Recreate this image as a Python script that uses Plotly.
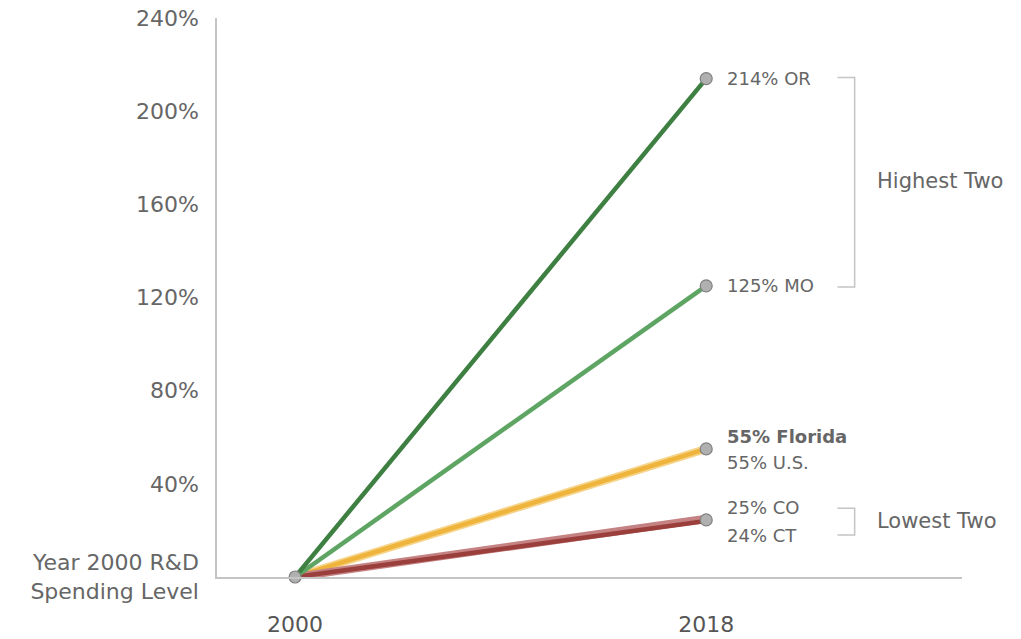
import plotly.graph_objects as go

years = [2000, 2018]
series_names = ["U.S.", "Florida", "CO", "CT", "MO", "OR"]
end_values = [55, 55, 25, 24, 125, 214]
colors = ["#f6d48a", "#efb43c", "#c58282", "#9b3f3c", "#5ea564", "#3e7f42"]
widths = [8, 4.5, 8, 4.5, 4.5, 4.5]
y_ticks = [0, 40, 80, 120, 160, 200, 240]
y_tick_text = ["Year 2000 R&D<br>Spending Level", "40%", "80%", "120%", "160%", "200%", "240%"]
x_ticks = [2000, 2018]

TXT = "#666666"
GRID = "#c4c4c4"
FONT = "DejaVu Sans"

fig = go.Figure()
for name, v, c, w in zip(series_names, end_values, colors, widths):
    fig.add_trace(go.Scatter(x=years, y=[0, v], mode="lines", name=name,
                             line=dict(color=c, width=w), cliponaxis=False,
                             hoverinfo="skip"))

# markers
end_markers = [214, 125, 55, 24.5]
fig.add_trace(go.Scatter(x=[2000] + [2018] * len(end_markers), y=[0] + end_markers,
                         mode="markers", cliponaxis=False, hoverinfo="skip",
                         marker=dict(size=12, color="#b0b0b0",
                                     line=dict(color="#808080", width=1.2))))

d = dict(zip(series_names, end_values))
ann = []
def lab(text, y, yshift=0, bold=False):
    ann.append(dict(x=2018, y=y, xref="x", yref="y", text=("<b>%s</b>" % text) if bold else text,
                    showarrow=False, xanchor="left", yanchor="middle", xshift=19, yshift=yshift,
                    font=dict(family=FONT, size=18, color=TXT)))
lab("%d%% OR" % d["OR"], d["OR"])
lab("%d%% MO" % d["MO"], d["MO"])
lab("%d%% Florida" % d["Florida"], d["Florida"], yshift=12, bold=True)
lab("%d%% U.S." % d["U.S."], d["U.S."], yshift=-14)
lab("%d%% CO" % d["CO"], d["CO"], yshift=11)
lab("%d%% CT" % d["CT"], d["CT"], yshift=-14)

# brackets
shapes = []
def bracket(y0, y1):
    path = "M 2023.75,%f L 2024.5,%f L 2024.5,%f L 2023.75,%f" % (y1, y1, y0, y0)
    shapes.append(dict(type="path", path=path, xref="x", yref="y",
                       line=dict(color=GRID, width=1.5)))
bracket(d["MO"] - 0.5, d["OR"] + 0.5)
bracket(d["CT"] - 6, d["CO"] + 4.5)
for txt, yv in [("Highest Two", (d["MO"] + d["OR"]) / 2 + 0.5), ("Lowest Two", (d["CT"] + d["CO"]) / 2 - 0.5)]:
    ann.append(dict(x=2025.4, y=yv, xref="x", yref="y", text=txt, showarrow=False,
                    xanchor="left", yanchor="middle",
                    font=dict(family=FONT, size=21, color=TXT)))

fig.update_layout(
    width=1021, height=639,
    margin=dict(l=217, r=59, t=18, b=62),
    paper_bgcolor="white", plot_bgcolor="white",
    showlegend=False, hovermode=False,
    annotations=ann, shapes=shapes,
    font=dict(family=FONT, color=TXT),
    xaxis=dict(range=[1996.58, 2029.2], tickvals=x_ticks, ticktext=[str(t) for t in x_ticks],
               showgrid=False, zeroline=False, showline=True, linecolor=GRID, linewidth=1.5,
               ticks="", tickfont=dict(family=FONT, size=22, color="#555555"),
               ticklabelstandoff=27, automargin=False, ticklabeloverflow="allow"),
    yaxis=dict(range=[0, 240], tickvals=y_ticks, ticktext=y_tick_text,
               showgrid=False, zeroline=False, showline=True, linecolor=GRID, linewidth=1.5,
               ticks="", tickfont=dict(family=FONT, size=22, color=TXT),
               ticklabelstandoff=12, automargin=False, ticklabeloverflow="allow"),
)
fig.write_html("out.html", config={"displayModeBar": False},
               post_script="document.body.style.margin='0px';document.body.style.overflow='hidden';")
